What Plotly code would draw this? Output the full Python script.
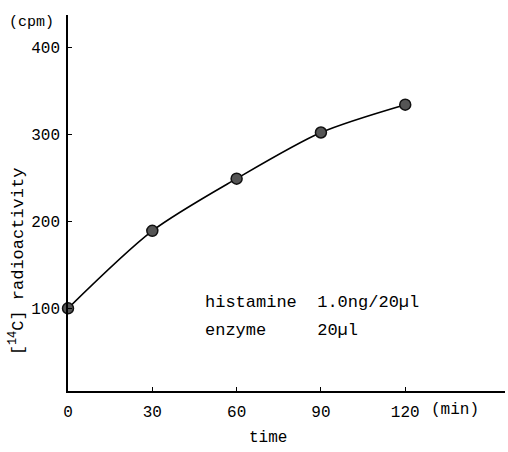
import plotly.graph_objects as go

time_min = [0, 30, 60, 90, 120]
radioactivity = [100, 189, 249, 302, 334]
x_ticks = [0, 30, 60, 90, 120]
x_ticklabels = ["0", "30", "60", "90", "120"]
y_ticks = [100, 200, 300, 400]
y_ticklabels = ["100", "200", "300", "400"]

FONT = "Liberation Mono, Courier New, monospace"

fig = go.Figure()
fig.add_trace(go.Scatter(
    x=time_min, y=radioactivity, mode="lines+markers",
    line=dict(color="black", width=1.6, shape="spline", smoothing=0.8),
    marker=dict(size=11, color="#555555", line=dict(color="#111111", width=1.5)),
    showlegend=False, cliponaxis=False,
))

fig.update_layout(
    width=508, height=452,
    margin=dict(l=68, r=3, t=15, b=61),
    paper_bgcolor="white", plot_bgcolor="white",
    font=dict(family=FONT, size=16, color="black"),
    xaxis=dict(range=[0, 155.5], tickvals=x_ticks, ticktext=x_ticklabels,
               showline=True, linecolor="black", linewidth=1.5,
               ticks="inside", ticklen=4, tickcolor="black",
               showgrid=False, zeroline=False, ticklabelstandoff=5,
               tickfont=dict(family=FONT, size=16)),
    yaxis=dict(range=[5, 437], tickvals=y_ticks, ticktext=y_ticklabels,
               showline=True, linecolor="black", linewidth=1.5,
               ticks="inside", ticklen=4, tickcolor="black",
               showgrid=False, zeroline=False, ticklabelstandoff=3,
               tickfont=dict(family=FONT, size=16)),
)

fig.add_annotation(text="(cpm)", x=0, xref="paper", xanchor="right", xshift=-12,
                   y=1, yref="paper", yanchor="middle", yshift=-7,
                   showarrow=False, font=dict(family=FONT, size=15))
fig.add_annotation(text="(min)", x=120, xref="x", xanchor="left", xshift=24,
                   y=0, yref="paper", yanchor="middle", yshift=-19,
                   showarrow=False, font=dict(family=FONT, size=16))
fig.add_annotation(text="time", x=(268-68)/437, xref="paper", xanchor="center",
                   y=0, yref="paper", yanchor="middle", yshift=-47,
                   showarrow=False, font=dict(family=FONT, size=16))
fig.add_annotation(text="[<sup>14</sup>C] radioactivity", x=0, xref="paper", xanchor="center",
                   xshift=-51, y=154, yref="y", yanchor="middle", textangle=-90,
                   showarrow=False, font=dict(family=FONT, size=17))
fig.add_annotation(text="histamine  1.0ng/20\u00b5l", x=48, xref="x", xanchor="left",
                   y=107, yref="y", yanchor="middle",
                   showarrow=False, font=dict(family=FONT, size=17))
fig.add_annotation(text="enzyme     20\u00b5l", x=48, xref="x", xanchor="left",
                   y=75, yref="y", yanchor="middle",
                   showarrow=False, font=dict(family=FONT, size=17))

fig.write_html("out.html")
